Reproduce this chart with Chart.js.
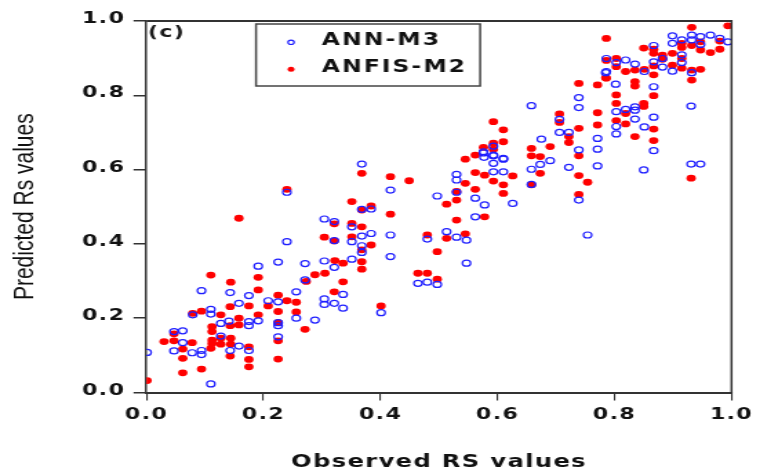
<!DOCTYPE html>
<html>
<head>
<meta charset="utf-8">
<script src="https://cdn.jsdelivr.net/npm/chart.js@4/dist/chart.umd.min.js"></script>
<style>
  html, body { margin: 0; padding: 0; background: #fff; }
</style>
</head>
<body>
<!-- the original figure is horizontally stretched, so draw narrow and scale up -->
<canvas id="chart" width="551" height="476" style="display:block;width:760px;height:476px"></canvas>
<script>
// ANN-M3 (blue, hollow)
const annObs = [
  0.240, 0.304, 0.321, 0.240, 0.304, 0.321, 0.191, 0.225, 0.271, 0.271,
  0.094, 0.143, 0.175, 0.158, 0.208, 0.225, 0.256, 0.304, 0.304, 0.321,
  0.288, 0.256, 0.079, 0.110, 0.110, 0.127, 0.141, 0.175, 0.175, 0.191,
  0.127, 0.047, 0.062, 0.062, 0.047, 0.078, 0.094, 0.094, 0.110, 0.001,
  0.158, 0.175, 0.143, 0.225, 0.225, 0.225,
  0.368, 0.417, 0.384, 0.368, 0.351, 0.384, 0.368, 0.417, 0.321, 0.351,
  0.368, 0.368, 0.351, 0.417, 0.336, 0.336, 0.401, 0.480, 0.513, 0.530,
  0.547, 0.464, 0.480, 0.497, 0.547, 0.497, 0.530, 0.530, 0.530, 0.562,
  0.578, 0.562, 0.593, 0.593, 0.593, 0.576, 0.610, 0.626, 0.610,
  0.785, 0.802, 0.739, 0.739, 0.658, 0.803, 0.706, 0.803, 0.803, 0.722,
  0.706, 0.771, 0.771, 0.771, 0.739, 0.722, 0.739, 0.754, 0.675, 0.690,
  0.673, 0.658, 0.658, 0.593, 0.576, 0.593, 0.577, 0.610,
  0.899, 0.915, 0.932, 0.932, 0.947, 0.947, 0.964, 0.980, 0.994, 0.899,
  0.882, 0.867, 0.867, 0.867, 0.867, 0.867, 0.851, 0.850, 0.899, 0.882,
  0.915, 0.915, 0.932, 0.931, 0.931, 0.947, 0.835, 0.835, 0.835, 0.835,
  0.819, 0.803, 0.786, 0.786, 0.851, 0.819
];
const annPred = [
  0.539, 0.467, 0.460, 0.406, 0.354, 0.337, 0.340, 0.351, 0.347, 0.303,
  0.274, 0.269, 0.261, 0.240, 0.247, 0.244, 0.271, 0.252, 0.237, 0.240,
  0.195, 0.200, 0.209, 0.224, 0.211, 0.186, 0.192, 0.191, 0.180, 0.193,
  0.152, 0.164, 0.166, 0.134, 0.112, 0.107, 0.113, 0.102, 0.023, 0.108,
  0.125, 0.113, 0.113, 0.188, 0.150, 0.180,
  0.615, 0.545, 0.494, 0.493, 0.446, 0.428, 0.421, 0.424, 0.409, 0.406,
  0.395, 0.377, 0.359, 0.366, 0.264, 0.227, 0.215, 0.413, 0.433, 0.418,
  0.410, 0.294, 0.297, 0.291, 0.348, 0.529, 0.587, 0.572, 0.539, 0.523,
  0.505, 0.473, 0.594, 0.617, 0.639, 0.645, 0.594, 0.509, 0.630,
  0.861, 0.830, 0.794, 0.767, 0.772, 0.756, 0.735, 0.716, 0.696, 0.700,
  0.700, 0.684, 0.655, 0.610, 0.653, 0.606, 0.518, 0.424, 0.682, 0.624,
  0.614, 0.601, 0.560, 0.663, 0.648, 0.637, 0.633, 0.628,
  0.960, 0.949, 0.962, 0.949, 0.958, 0.937, 0.962, 0.953, 0.944, 0.940,
  0.899, 0.934, 0.890, 0.823, 0.741, 0.651, 0.715, 0.599, 0.865, 0.876,
  0.909, 0.888, 0.861, 0.771, 0.615, 0.615, 0.884, 0.769, 0.760, 0.736,
  0.895, 0.888, 0.899, 0.864, 0.864, 0.762
];

// ANFIS-M2 (red, filled)
const anfisObs = [
  0.240, 0.158, 0.321, 0.304, 0.321, 0.322, 0.305, 0.288, 0.273, 0.110,
  0.144, 0.191, 0.191, 0.143, 0.175, 0.208, 0.225, 0.240, 0.256, 0.321,
  0.256, 0.271, 0.079, 0.094, 0.127, 0.143, 0.158, 0.158, 0.191, 0.112,
  0.112, 0.127, 0.112, 0.112, 0.127, 0.144, 0.144, 0.110, 0.047, 0.030,
  0.047, 0.078, 0.062, 0.062, 0.094, 0.062, 0.001, 0.143, 0.175, 0.175,
  0.175, 0.225, 0.225, 0.225, 0.225,
  0.368, 0.417, 0.449, 0.351, 0.384, 0.368, 0.417, 0.351, 0.368, 0.351,
  0.384, 0.368, 0.336, 0.368, 0.368, 0.336, 0.401, 0.480, 0.513, 0.545,
  0.497, 0.464, 0.480, 0.497, 0.513, 0.530, 0.530, 0.530, 0.562, 0.545,
  0.562, 0.578, 0.593, 0.545, 0.562, 0.610, 0.610, 0.626, 0.578,
  0.739, 0.771, 0.785, 0.803, 0.803, 0.771, 0.706, 0.706, 0.771, 0.803,
  0.739, 0.722, 0.722, 0.739, 0.739, 0.754, 0.739, 0.690, 0.658, 0.658,
  0.673, 0.673, 0.658, 0.593, 0.610, 0.610, 0.593, 0.593, 0.576,
  0.932, 0.994, 0.915, 0.915, 0.932, 0.947, 0.980, 0.980, 0.947, 0.964,
  0.899, 0.882, 0.882, 0.867, 0.867, 0.867, 0.867, 0.867, 0.867, 0.867,
  0.850, 0.899, 0.915, 0.915, 0.932, 0.932, 0.947, 0.931, 0.835, 0.835,
  0.835, 0.850, 0.850, 0.835, 0.803, 0.803, 0.786, 0.786, 0.786, 0.819,
  0.851, 0.819, 0.819
];
const anfisPred = [
  0.547, 0.469, 0.454, 0.418, 0.408, 0.355, 0.321, 0.317, 0.299, 0.316,
  0.297, 0.310, 0.276, 0.231, 0.233, 0.233, 0.262, 0.247, 0.243, 0.271,
  0.217, 0.170, 0.213, 0.219, 0.209, 0.180, 0.200, 0.182, 0.209, 0.177,
  0.164, 0.146, 0.141, 0.132, 0.130, 0.146, 0.130, 0.119, 0.158, 0.137,
  0.139, 0.134, 0.117, 0.092, 0.063, 0.053, 0.032, 0.098, 0.123, 0.089,
  0.069, 0.218, 0.188, 0.139, 0.090,
  0.590, 0.581, 0.570, 0.514, 0.502, 0.491, 0.480, 0.455, 0.446, 0.419,
  0.397, 0.384, 0.348, 0.352, 0.332, 0.298, 0.233, 0.424, 0.415, 0.427,
  0.379, 0.321, 0.321, 0.305, 0.507, 0.518, 0.541, 0.464, 0.547, 0.563,
  0.592, 0.585, 0.569, 0.628, 0.639, 0.559, 0.536, 0.583, 0.473,
  0.832, 0.828, 0.847, 0.801, 0.778, 0.753, 0.750, 0.727, 0.720, 0.732,
  0.711, 0.689, 0.673, 0.637, 0.584, 0.566, 0.533, 0.662, 0.657, 0.637,
  0.635, 0.590, 0.559, 0.729, 0.707, 0.675, 0.671, 0.655, 0.660,
  0.983, 0.987, 0.940, 0.929, 0.934, 0.944, 0.946, 0.924, 0.922, 0.915,
  0.913, 0.908, 0.897, 0.924, 0.913, 0.879, 0.855, 0.799, 0.709, 0.678,
  0.927, 0.881, 0.899, 0.873, 0.868, 0.841, 0.870, 0.577, 0.868, 0.837,
  0.825, 0.778, 0.770, 0.689, 0.899, 0.877, 0.894, 0.846, 0.953, 0.864,
  0.870, 0.751, 0.723
];

const yTicks = ['0.0', '0.2', '0.4', '0.6', '0.8', '1.0'];
const xTicks = ['0.0', '0.2', '0.4', '0.6', '0.8', '1.0'];

const BLUE = 'rgb(30,30,255)';
const RED = 'rgb(255,0,0)';
const INK = '#111';
const BOLD = '"DejaVu Sans", sans-serif';

function toPoints(xs, ys) {
  return xs.map((x, i) => ({ x: x, y: ys[i] }));
}

// Chart.js does not reset letterSpacing, but a canvas resize does
const spacing = {
  id: 'spacing',
  beforeUpdate(chart) { chart.ctx.letterSpacing = '1px'; },
  beforeDraw(chart) { chart.ctx.letterSpacing = '1px'; }
};

const decor = {
  id: 'decor',
  afterDraw(chart) {
    const ctx = chart.ctx;
    const a = chart.chartArea;
    ctx.save();

    // top and right frame
    ctx.strokeStyle = '#333';
    ctx.lineWidth = 2;
    ctx.beginPath();
    ctx.moveTo(a.left, a.top);
    ctx.lineTo(a.right, a.top);
    ctx.stroke();
    ctx.lineWidth = 1.5;
    ctx.beginPath();
    ctx.moveTo(a.right, a.top - 1);
    ctx.lineTo(a.right, a.bottom);
    ctx.stroke();

    // panel label
    ctx.fillStyle = '#1a1a1a';
    ctx.font = 'bold 16px ' + BOLD;
    ctx.textBaseline = 'middle';
    ctx.textAlign = 'left';
    ctx.fillText('(c)', a.left + 1, 32.5);

    // legend
    ctx.lineWidth = 1.5;
    ctx.strokeStyle = '#444';
    ctx.strokeRect(185.6, 24, 162.5, 62);
    ctx.font = 'bold 17px ' + BOLD;
    ctx.letterSpacing = '1.5px';
    const ds = chart.data.datasets;
    const rows = [42.3, 69.3];
    ds.forEach((d, i) => {
      const y = rows[i];
      ctx.beginPath();
      if (i === 0) {
        ctx.arc(211, y, 2.2, 0, Math.PI * 2);
        ctx.strokeStyle = d.borderColor;
        ctx.lineWidth = 1.2;
        ctx.stroke();
      } else {
        ctx.arc(211, y, 2.5, 0, Math.PI * 2);
        ctx.fillStyle = d.backgroundColor;
        ctx.fill();
      }
      ctx.fillStyle = INK;
      ctx.fillText(d.label, 233.3, y - 1.5);
    });

    // y axis title, plain weight and no spacing
    ctx.letterSpacing = '0px';
    ctx.translate(18.1, 206.7);
    ctx.rotate(-Math.PI / 2);
    ctx.font = '21px "Liberation Sans", Arial, sans-serif';
    ctx.textAlign = 'center';
    ctx.fillStyle = INK;
    ctx.fillText('Predicted Rs values', 0, 0);
    ctx.restore();
  }
};

new Chart(document.getElementById('chart'), {
  type: 'scatter',
  data: {
    datasets: [
      {
        label: 'ANN-M3',
        data: toPoints(annObs, annPred),
        pointStyle: 'circle',
        pointRadius: 3,
        borderWidth: 1.2,
        borderColor: BLUE,
        backgroundColor: 'rgba(0,0,0,0)'
      },
      {
        label: 'ANFIS-M2',
        data: toPoints(anfisObs, anfisPred),
        pointStyle: 'circle',
        pointRadius: 3.4,
        borderWidth: 0,
        borderColor: RED,
        backgroundColor: RED
      }
    ]
  },
  options: {
    responsive: false,
    animation: false,
    events: [],
    layout: { padding: { top: 21, right: 16.7, bottom: 0, left: 0 } },
    plugins: {
      legend: { display: false },
      tooltip: { enabled: false }
    },
    scales: {
      x: {
        type: 'linear',
        min: 0,
        max: 1,
        afterFit: s => { s.height = 83.5; },
        ticks: {
          stepSize: 0.2,
          padding: 5,
          color: INK,
          font: { family: BOLD, size: 16, weight: 'bold' },
          callback: (v, i) => xTicks[i]
        },
        grid: { drawOnChartArea: false, tickLength: 8, color: '#333', lineWidth: 1.1 },
        border: { color: '#333', width: 2 },
        title: {
          display: true,
          text: 'Observed RS values',
          color: INK,
          font: { family: BOLD, size: 17.5, weight: 'bold' },
          padding: { top: 0, bottom: 3 }
        }
      },
      y: {
        type: 'linear',
        min: 0,
        max: 1,
        afterFit: s => { s.width = 106.2; },
        ticks: {
          stepSize: 0.2,
          padding: 6,
          labelOffset: -2,
          color: INK,
          font: { family: BOLD, size: 16, weight: 'bold' },
          callback: (v, i) => yTicks[i]
        },
        grid: { drawOnChartArea: false, tickLength: 9.4, color: '#333', lineWidth: 1.5 },
        border: { color: '#333', width: 1.5 }
      }
    }
  },
  plugins: [spacing, decor]
});
</script>
</body>
</html>
